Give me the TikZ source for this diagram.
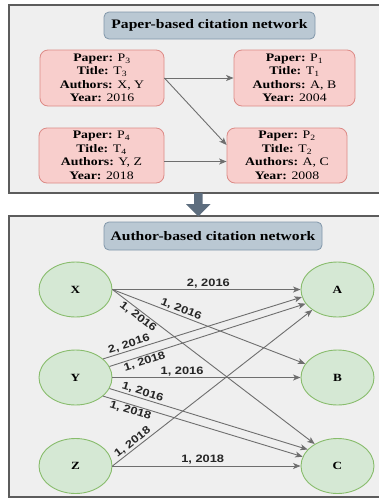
\documentclass[tikz,border=0pt]{standalone}
\usepackage{fontspec}
\setmainfont{Liberation Serif}[FakeStretch=1.2]
\setsansfont{Liberation Sans}[FakeStretch=1.2]
\usetikzlibrary{shapes.geometric,arrows.meta}
\definecolor{panelfill}{HTML}{EFEFEF}
\definecolor{panelline}{HTML}{5C5C5C}
\definecolor{titlefill}{HTML}{BAC8D3}
\definecolor{titleline}{HTML}{8197AA}
\definecolor{paperfill}{HTML}{F8CECC}
\definecolor{paperline}{HTML}{DC8A86}
\definecolor{authfill}{HTML}{D5E8D4}
\definecolor{authline}{HTML}{88BC6C}
\definecolor{linkcol}{HTML}{6E6E6E}
\definecolor{downcol}{HTML}{5D6D7E}
\begin{document}
\begin{tikzpicture}[x=1pt,y=-1pt,
 panel/.style={draw=panelline, line width=1.3pt, fill=panelfill},
 titlebox/.style={draw=titleline, fill=titlefill, rounded corners=5pt, line width=0.8pt,
   font=\fontsize{13}{15}\selectfont\bfseries, inner sep=0pt},
 paper/.style={draw=paperline, fill=paperfill, rounded corners=8pt, line width=0.8pt,
   align=center, font=\fontsize{11.5}{13.5}\selectfont, inner sep=0pt},
 author/.style={ellipse, draw=authline, fill=authfill, line width=0.9pt,
   minimum width=73pt, minimum height=55pt, inner sep=0pt,
   font=\fontsize{11}{13}\selectfont\bfseries},
 link/.style={draw=linkcol, line width=0.9pt, -{Stealth[length=7.5pt,width=6pt,inset=2pt]}},
 lbl/.style={font=\fontsize{10.7}{12}\selectfont\sffamily\bfseries, inner sep=1.2pt, sloped, text=black!85}
]
\useasboundingbox (0,0) rectangle (379,499);
% panels
\draw[panel] (9,5) rectangle (392,193);
\draw[panel] (9,216) rectangle (392,497);
% down arrow between panels
\fill[downcol] (194,193) -- (202.5,193) -- (202.5,204) -- (210.5,204) -- (198.3,216.5)
   -- (186,204) -- (194,204) -- cycle;

% ---- paper-based network
\node[titlebox, minimum width=211pt, minimum height=27pt] (t1) at (209.5,25.5) {Paper-based citation network};
\node[paper, minimum width=124pt, minimum height=56pt] (P3) at (102,78)
  {\textbf{Paper:} P\textsubscript{3}\\ \textbf{Title:} T\textsubscript{3}\\ \textbf{Authors:} X, Y\\ \textbf{Year:} 2016};
\node[paper, minimum width=121pt, minimum height=56pt] (P1) at (294.5,78)
  {\textbf{Paper:} P\textsubscript{1}\\ \textbf{Title:} T\textsubscript{1}\\ \textbf{Authors:} A, B\\ \textbf{Year:} 2004};
\node[paper, minimum width=125pt, minimum height=55pt] (P4) at (101.5,155.5)
  {\textbf{Paper:} P\textsubscript{4}\\ \textbf{Title:} T\textsubscript{4}\\ \textbf{Authors:} Y, Z\\ \textbf{Year:} 2018};
\node[paper, minimum width=120pt, minimum height=55pt] (P2) at (287,155.5)
  {\textbf{Paper:} P\textsubscript{2}\\ \textbf{Title:} T\textsubscript{2}\\ \textbf{Authors:} A, C\\ \textbf{Year:} 2008};
\draw[link] (P3.east) -- (P1.west);
\draw[link] (P3.east) -- ([yshift=10.5pt]P2.west);
\draw[link] ([yshift=-6pt]P4.east) -- ([yshift=-6pt]P2.west);

% ---- author-based network
\node[titlebox, minimum width=218pt, minimum height=28pt] (t2) at (213,236) {Author-based citation network};
\node[author] (X) at (75.5,289.5) {X};
\node[author] (Y) at (75.5,377.5) {Y};
\node[author] (Z) at (75.5,466) {Z};
\node[author] (A) at (337.5,289.5) {A};
\node[author] (B) at (337.5,377.5) {B};
\node[author] (C) at (337.5,466) {C};

\draw[link] (X.east) -- node[lbl,above,pos=.51] (l1) {2, 2016} (A.west);
\draw[link] (X.east) -- node[lbl,above,pos=.345] (l2) {1, 2016} (B.157);
\draw[link] (X.east) -- node[lbl,below,pos=.145] (l3) {1, 2016} (C.136);
\draw[link] (Y.34) -- node[lbl,above,pos=.14] (l4) {2, 2016} (A.192);
\draw[link] (Y.18) -- node[lbl,below,pos=.17] (l5) {1, 2018} (A.204);
\draw[link] (Y.east) -- node[lbl,above,pos=.37] (l6) {1, 2016} (B.west);
\draw[link] (Y.-18) -- node[lbl,above,pos=.158] (l7) {1, 2016} (C.151);
\draw[link] (Y.-34) -- node[lbl,below,pos=.146] (l8) {1, 2018} (C.165);
\draw[link] (Z.east) -- node[lbl,above,pos=.12] (l9) {1, 2018} (A.219);
\draw[link] (Z.east) -- node[lbl,above,pos=.48] (l10) {1, 2018} (C.west);
\end{tikzpicture}
\end{document}
